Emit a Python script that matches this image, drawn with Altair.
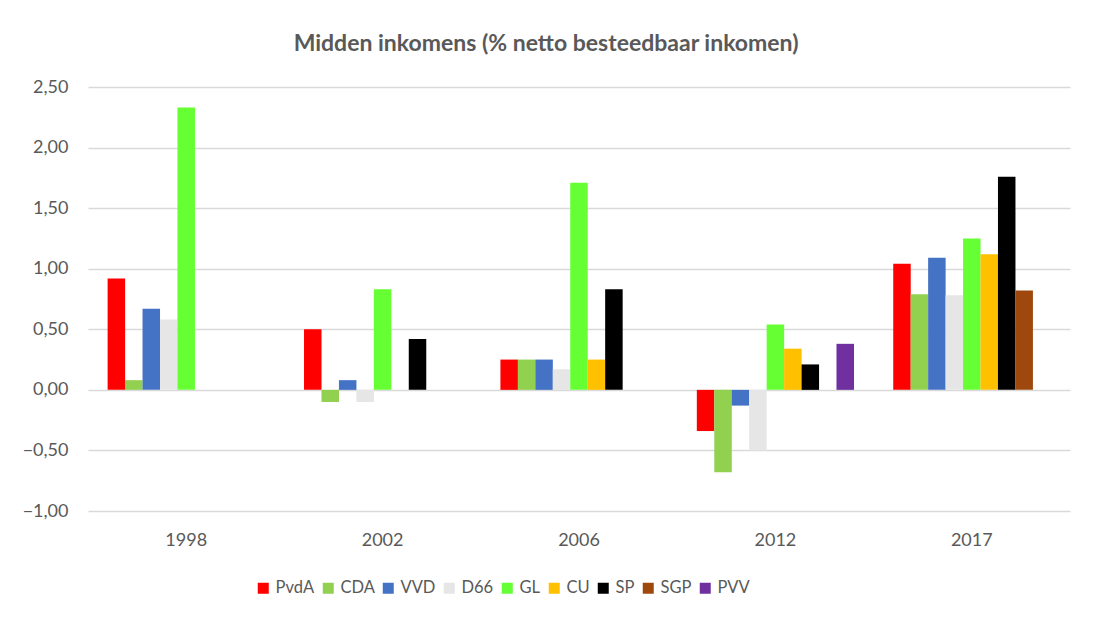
import altair as alt
import pandas as pd

years = ["1998", "2002", "2006", "2012", "2017"]
parties = ["PvdA", "CDA", "VVD", "D66", "GL", "CU", "SP", "SGP", "PVV"]
colors = ["#FF0000", "#92D050", "#4472C4", "#E7E6E6", "#66FF33", "#FFC000", "#000000", "#9E480E", "#7030A0"]

# values per party, one per year (None = no bar)
pvda = [0.92, 0.50, 0.25, -0.34, 1.04]
cda = [0.08, -0.10, 0.25, -0.68, 0.79]
vvd = [0.67, 0.08, 0.25, -0.13, 1.09]
d66 = [0.58, -0.10, 0.17, -0.50, 0.78]
gl = [2.33, 0.83, 1.71, 0.54, 1.25]
cu = [None, None, 0.25, 0.34, 1.12]
sp = [None, 0.42, 0.83, 0.21, 1.76]
sgp = [None, None, None, None, 0.82]
pvv = [None, None, None, 0.38, None]

series = [pvda, cda, vvd, d66, gl, cu, sp, sgp, pvv]
rows = []
for p, vals in zip(parties, series):
    for y, v in zip(years, vals):
        if v is not None:
            rows.append({"jaar": y, "partij": p, "waarde": v})
df = pd.DataFrame(rows)

FONT = "Lato"
GREY = "#595959"

chart = alt.Chart(df).mark_bar(size=17.5).encode(
    x=alt.X("jaar:N", sort=years, title=None,
            scale=alt.Scale(paddingInner=0.2, paddingOuter=0.1),
            axis=alt.Axis(labelAngle=0, domain=False, ticks=False, grid=False,
                          labelPadding=20, labelFontSize=18, labelColor=GREY, labelFont=FONT)),
    xOffset=alt.XOffset("partij:N", sort=parties, scale=alt.Scale(domain=parties, paddingInner=0, paddingOuter=0)),
    y=alt.Y("waarde:Q", title=None,
            scale=alt.Scale(domain=[-1, 2.5], nice=False, zero=False),
            axis=alt.Axis(values=[-1, -0.5, 0, 0.5, 1, 1.5, 2, 2.5], domain=False, ticks=False,
                          labelExpr="replace(format(datum.value, '.2f'), '.', ',')",
                          gridColor="#D9D9D9", gridWidth=1.5, labelPadding=20,
                          labelFontSize=18, labelColor=GREY, labelFont=FONT)),
    color=alt.Color("partij:N", sort=parties,
                    scale=alt.Scale(domain=parties, range=colors),
                    legend=alt.Legend(title=None, orient="none", direction="horizontal",
                                      legendX=167, legendY=493, symbolType="square",
                                      symbolSize=121, symbolStrokeWidth=0, labelFontSize=16.5,
                                      labelColor=GREY, labelFont=FONT, labelOffset=4,
                                      columnPadding=5, gridAlign="none")),
).properties(
    width=982,
    height=424,
    title=alt.TitleParams("Midden inkomens (% netto besteedbaar inkomen)", fontSize=23,
                          font=FONT, fontWeight="bold", color=GREY, anchor="middle",
                          frame="bounds", offset=22),
    padding={"left": 80, "top": 79, "right": 18, "bottom": 100},
    autosize=alt.AutoSizeParams(type="none"),
).configure(background="white").configure_view(stroke=None)

chart.save("out.html", embed_options={"renderer": "svg", "actions": False})
